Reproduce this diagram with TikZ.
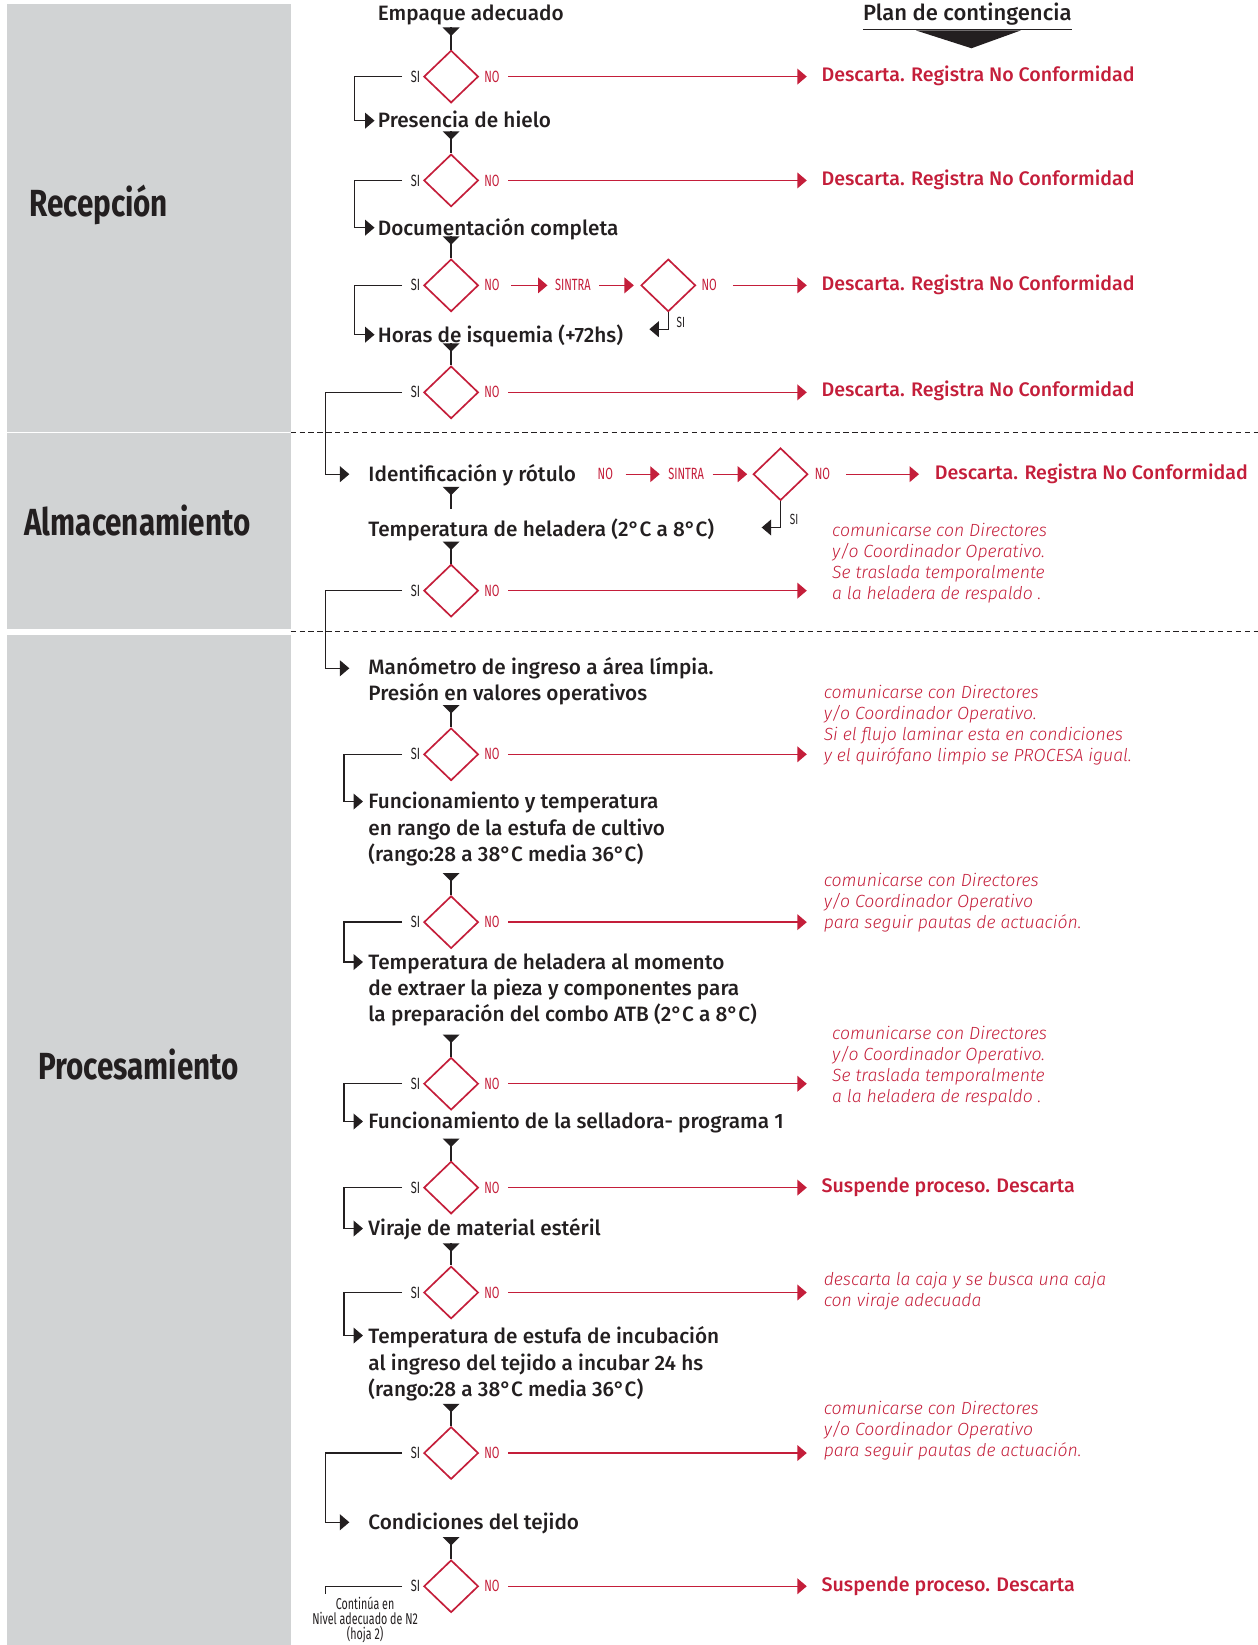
\documentclass[tikz,border=0pt]{standalone}
\usepackage{fontspec}
\setmainfont{Fira Sans}
\newfontfamily\medf{Fira Sans Medium}
\newfontfamily\notef{Fira Sans Light Italic}
\newfontfamily\condf{Fira Sans}[FakeStretch=0.68]
\newfontfamily\titlef{Fira Sans Bold}[FakeStretch=0.785]
\usetikzlibrary{shapes.geometric,arrows.meta,calc}
\definecolor{cInk}{HTML}{231F20}
\definecolor{cRed}{HTML}{C41E3A}
\definecolor{cPanel}{HTML}{D1D3D4}
\tikzset{
  dia/.style={diamond, draw=cRed, line width=1.6pt, minimum width=52pt, minimum height=50pt, inner sep=0pt},
  lbl/.style={font=\condf\fontsize{15.5}{16}\selectfont, inner sep=0pt},
  silbl/.style={lbl, text=cInk},
  nolbl/.style={lbl, text=cRed},
  smallsi/.style={font=\condf\fontsize{14}{14}\selectfont, text=cInk, inner sep=0pt},
  txtmain/.style={font=\medf\fontsize{19.8}{25}\selectfont, text=cInk, inner sep=0pt, anchor=base west, align=left},
  txtout/.style={font=\medf\fontsize{18.7}{24}\selectfont, text=cRed, inner sep=0pt, anchor=base west},
  txtnote/.style={font=\notef\fontsize{16.8}{20}\selectfont, text=cRed, inner sep=0pt, anchor=base west, align=left},
  txttitle/.style={font=\titlef\fontsize{36}{40}\selectfont, text=cInk, inner sep=0pt, anchor=base},
  siline/.style={draw=cInk, line width=1.3pt},
  siarr/.style={siline, -{Triangle[width=15pt,length=9pt]}},
  noarr/.style={draw=cRed, line width=1.3pt, -{Triangle[width=15pt,length=9pt]}},
  dashsep/.style={draw=cInk, line width=1.4pt, dash pattern=on 5pt off 3.5pt},
  tee/.pic={
    \fill[cInk] (-8,-21) -- (8,-21) -- (0,-13) -- cycle;
    \draw[cInk, line width=1.3pt] (0,-21) -- (0,0);
  }
}
\begin{document}
\begin{tikzpicture}[x=1pt,y=-1pt]
\useasboundingbox (0,0) rectangle (1199,1568);
% panels
\fill[cPanel] (7,4) rectangle (277,411.5);
\fill[cPanel] (7,412.5) rectangle (277,600);
\fill[cPanel] (7,605) rectangle (277,1568);
\node[txttitle] (pr) at (94,206) {Recepción};
\node[txttitle] (pa) at (131,510) {Almacenamiento};
\node[txttitle] (pp) at (132,1029) {Procesamiento};
% separators
\coordinate (sepA1) at (277,412);
\coordinate (sepA2) at (1199,412);
\coordinate (sepB1) at (277,602);
\coordinate (sepB2) at (1199,602);
\draw[dashsep] (sepA1) -- (sepA2);
\draw[dashsep] (sepB1) -- (sepB2);

% plan de contingencia
\node[txtmain, anchor=base, font=\medf\fontsize{21}{25}\selectfont] (pc) at (922,20) {Plan de contingencia};
\draw[cInk, line width=1.6pt] ($(pc.base west)+(0,8)$) -- ($(pc.base east)+(0,8)$);
\fill[cInk] ($(pc.base)+(-49,9)$) -- ($(pc.base)+(51,9)$) -- ($(pc.base)+(4,26)$) -- cycle;

\coordinate (tipx) at (769,0);

% main texts
\node[txtmain] (t1) at (360,20) {Empaque adecuado};
\node[txtmain] (t2) at (360,122) {Presencia de hielo};
\node[txtmain] (t3) at (360,224) {Documentación completa};
\node[txtmain] (t4) at (360,326) {Horas de isquemia (+72hs)};
\node[txtmain] (t5) at (351,459) {Identificación y rótulo};
\node[txtmain] (t6) at (351,511) {Temperatura de heladera (2°C a 8°C)};
\node[txtmain] (t7) at (351,668) {Manómetro de ingreso a área límpia.\\Presión en valores operativos};
\node[txtmain] (t8) at (351,821) {Funcionamiento y temperatura\\en rango de la estufa de cultivo\\(rango:28 a 38°C media 36°C)};
\node[txtmain] (t9) at (351,974) {Temperatura de heladera al momento\\de extraer la pieza y componentes para\\la preparación del combo ATB (2°C a 8°C)};
\node[txtmain] (t10) at (351,1076) {Funcionamiento de la selladora- programa 1};
\node[txtmain] (t11) at (351,1178) {Viraje de material estéril};
\node[txtmain] (t12) at (351,1331) {Temperatura de estufa de incubación\\al ingreso del tejido a incubar 24 hs\\(rango:28 a 38°C media 36°C)};
\node[txtmain] (t13) at (351,1458) {Condiciones del tejido};

% diamonds
\foreach \i/\y in {1/73,2/172,3/272,4/374,5/563,6/719,7/879,8/1033,9/1132,10/1232,11/1385,12/1512}{
  \node[dia] (d\i) at (430,\y) {};
  \node[silbl] (si\i) at (396,\y) {SI};
  \node[nolbl] (no\i) at (469,\y) {NO};
  \pic at (d\i.north) {tee};
}
\pic at (430,485) {tee};

% SI arrows
\coordinate (in1) at ($(t2.base west)+(-3,-7)$);
\coordinate (in2) at ($(t3.base west)+(-3,-7)$);
\coordinate (in3) at ($(t4.base west)+(-3,-7)$);
\coordinate (in4) at ($(t5.base west)+(-18,-7)$);
\coordinate (in5) at ($(t7.base west)+(-18,-31)$);
\coordinate (in6) at ($(t8.base west)+(-5,-57)$);
\coordinate (in7) at ($(t9.base west)+(-5,-57)$);
\coordinate (in8) at ($(t10.base west)+(-5,-7)$);
\coordinate (in9) at ($(t11.base west)+(-5,-7)$);
\coordinate (in10) at ($(t12.base west)+(-5,-58)$);
\coordinate (in11) at ($(t13.base west)+(-18,-7)$);
\foreach \i/\dx in {1/19,2/19,3/19,4/23,5/23,6/18,7/18,8/18,9/18,10/18,11/23}{
  \draw[siarr, shorten <=8pt] (si\i.west) -| ($(in\i)+(-\dx,0)$) -- (in\i);
}
\coordinate (k12) at (310,1519);
\draw[siline, shorten <=8pt] (si12.west) -| (k12);
\node[font=\condf\fontsize{15}{14.5}\selectfont, align=center, anchor=base, text=cInk, inner sep=0pt] (cont) at (348,1563) {Continúa en\\Nivel adecuado de N2\\(hoja 2)};

% NO arrows to the right column
\foreach \i in {1,2,4,5,6,7,8,9,10,11,12}{
  \draw[noarr, shorten <=8pt] (no\i.east) -- (no\i.east -| tipx);
}

% SINTRA row 3
\node[dia] (dA) at (637,272) {};
\node[nolbl] (s1) at (546,272) {SINTRA};
\node[nolbl] (noA) at (676,272) {NO};
\draw[noarr, shorten <=11pt, shorten >=7pt] (no3.east) -- (s1.west);
\draw[noarr, shorten <=8pt, shorten >=6pt] (s1.east) -- (dA.west);
\draw[noarr, shorten <=15pt] (noA.east) -- (noA.east -| tipx);
\draw[siarr] (dA.south) -- ++(0,16) -- ++(-18,0);
\node[smallsi] (siA) at (649,307) {SI};

% SINTRA row identificacion
\node[nolbl] (noI) at (577,452) {NO};
\node[nolbl] (s2) at (654,452) {SINTRA};
\node[dia] (dB) at (744,452) {};
\node[nolbl] (noB) at (784,452) {NO};
\node[txtout] (rB) at (891,457) {Descarta. Registra No Conformidad};
\draw[noarr, shorten <=12pt, shorten >=8pt] (noI.east) -- (s2.west);
\draw[noarr, shorten <=8pt, shorten >=5pt] (s2.east) -- (dB.west);
\draw[noarr, shorten <=15pt, shorten >=15pt] (noB.east) -- (noB.east -| rB.west);
\draw[siarr] (dB.south) -- ++(0,25) -- ++(-18,0);
\node[smallsi] (siB) at (757,495) {SI};

% outcomes
\node[txtout] (r1) at (783,78) {Descarta. Registra No Conformidad};
\node[txtout] (r2) at (783,177) {Descarta. Registra No Conformidad};
\node[txtout] (r3) at (783,277) {Descarta. Registra No Conformidad};
\node[txtout] (r4) at (783,378) {Descarta. Registra No Conformidad};
\node[txtout] (r9) at (783,1137) {Suspende proceso. Descarta};
\node[txtout] (r12) at (783,1517) {Suspende proceso. Descarta};
\node[txtnote] (n5) at (793,571) {comunicarse con Directores\\y/o Coordinador Operativo.\\Se traslada temporalmente\\a la heladera de respaldo .};
\node[txtnote] (n6) at (785,726) {comunicarse con Directores\\y/o Coordinador Operativo.\\Si el flujo laminar esta en condiciones\\y el quirófano limpio se PROCESA igual.};
\node[txtnote] (n7) at (785,885) {comunicarse con Directores\\y/o Coordinador Operativo\\para seguir pautas de actuación.};
\node[txtnote] (n8) at (793,1051) {comunicarse con Directores\\y/o Coordinador Operativo.\\Se traslada temporalmente\\a la heladera de respaldo .};
\node[txtnote] (n10) at (785,1245) {descarta la caja y se busca una caja\\con viraje adecuada};
\node[txtnote] (n11) at (785,1388) {comunicarse con Directores\\y/o Coordinador Operativo\\para seguir pautas de actuación.};
\end{tikzpicture}
\end{document}
